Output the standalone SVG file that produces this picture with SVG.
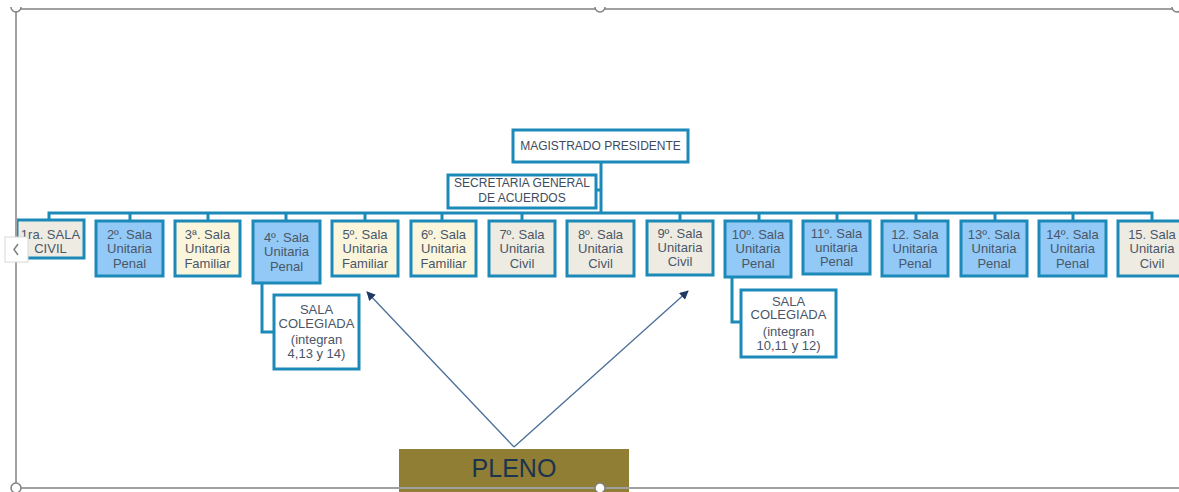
<svg xmlns="http://www.w3.org/2000/svg" width="1179" height="492" viewBox="0 0 1179 492">
<defs>
<style>
.box{stroke:#1C8AB8;stroke-width:3}
.blue{fill:#92C9F7}
.cream{fill:#FBF5DC}
.gray{fill:#EEECE2}
.white{fill:#FFFFFF}
.lbl{font-family:"Liberation Sans",Arial,sans-serif;font-size:13px;fill:#4A5668;text-anchor:middle}
.hdr{font-family:"Liberation Sans",Arial,sans-serif;font-size:12px;fill:#3E4B5C;text-anchor:middle}
.conn{stroke:#1C8AB8;stroke-width:3;fill:none}
.arr{stroke:#4A6F98;stroke-width:1.3;fill:none}
.frame{stroke:#A0A0A0;stroke-width:2;fill:none}
.handle{fill:#FFFFFF;stroke:#808080;stroke-width:1.5}
</style>
<marker id="ah" viewBox="0 0 10 10" refX="9" refY="5" markerWidth="9" markerHeight="9" markerUnits="userSpaceOnUse" orient="auto">
<path d="M0,0 L10,5 L0,10 Z" fill="#1F3864"/>
</marker>
</defs>
<rect width="1179" height="492" fill="#FFFFFF"/>

<g id="connectors">
<path class="conn" d="M601,162 V213"/>
<path class="conn" d="M596,190 H601"/>
<path class="conn" d="M49,220 V213 H1152 V220"/>
<path class="conn" d="M130,213 V221 M208,213 V221 M286,213 V221 M365,213 V221 M442,213 V221 M522,213 V221 M680,213 V221 M759,213 V221 M837,213 V221 M916,213 V221 M995,213 V221 M1073,213 V221"/>
<path class="conn" d="M262,283 V332 H274"/>
<path class="conn" d="M732,277 V322 H741"/>
<path class="arr" d="M514,447 L367,292" marker-end="url(#ah)"/>
<path class="arr" d="M514,447 L688,291" marker-end="url(#ah)"/>
</g>

<g id="magistrado">
<rect class="box white" x="513" y="130" width="175" height="32"/>
<text class="hdr" x="600.5" y="150">MAGISTRADO PRESIDENTE</text>
</g>
<g id="secretaria">
<rect class="box white" x="448" y="175" width="148" height="33"/>
<text class="hdr" x="522" y="187">SECRETARIA GENERAL</text>
<text class="hdr" x="522" y="202">DE ACUERDOS</text>
</g>

<g id="sala1">
<rect class="box gray" x="17" y="220" width="67" height="38"/>
<text class="lbl" x="50.5" y="238.5">1ra. SALA</text>
<text class="lbl" x="50.5" y="252.5">CIVIL</text>
</g>
<g id="sala2">
<rect class="box blue" x="96" y="221" width="67" height="55"/>
<text class="lbl" x="129.5" y="238.5">2º. Sala</text>
<text class="lbl" x="129.5" y="252.5">Unitaria</text>
<text class="lbl" x="129.5" y="267.5">Penal</text>
</g>
<g id="sala3">
<rect class="box cream" x="175" y="221" width="65" height="55"/>
<text class="lbl" x="207.5" y="238.5">3ª. Sala</text>
<text class="lbl" x="207.5" y="252.5">Unitaria</text>
<text class="lbl" x="207.5" y="267.5">Familiar</text>
</g>
<g id="sala4">
<rect class="box blue" x="253" y="221" width="67" height="62"/>
<text class="lbl" x="286.5" y="241.5">4º. Sala</text>
<text class="lbl" x="286.5" y="255.5">Unitaria</text>
<text class="lbl" x="286.5" y="270.5">Penal</text>
</g>
<g id="sala5">
<rect class="box cream" x="332" y="221" width="66" height="55"/>
<text class="lbl" x="365" y="238.5">5º. Sala</text>
<text class="lbl" x="365" y="252.5">Unitaria</text>
<text class="lbl" x="365" y="267.5">Familiar</text>
</g>
<g id="sala6">
<rect class="box cream" x="411" y="221" width="65" height="55"/>
<text class="lbl" x="443.5" y="238.5">6º. Sala</text>
<text class="lbl" x="443.5" y="252.5">Unitaria</text>
<text class="lbl" x="443.5" y="267.5">Familiar</text>
</g>
<g id="sala7">
<rect class="box gray" x="489" y="221" width="66" height="55"/>
<text class="lbl" x="522" y="238.5">7º. Sala</text>
<text class="lbl" x="522" y="252.5">Unitaria</text>
<text class="lbl" x="522" y="267.5">Civil</text>
</g>
<g id="sala8">
<rect class="box gray" x="567" y="221" width="67" height="55"/>
<text class="lbl" x="600.5" y="238.5">8º. Sala</text>
<text class="lbl" x="600.5" y="252.5">Unitaria</text>
<text class="lbl" x="600.5" y="267.5">Civil</text>
</g>
<g id="sala9">
<rect class="box gray" x="647" y="221" width="66" height="54"/>
<text class="lbl" x="680" y="237.5">9º. Sala</text>
<text class="lbl" x="680" y="251.5">Unitaria</text>
<text class="lbl" x="680" y="266">Civil</text>
</g>
<g id="sala10">
<rect class="box blue" x="725" y="221" width="66" height="56"/>
<text class="lbl" x="758" y="238.5">10º. Sala</text>
<text class="lbl" x="758" y="252.5">Unitaria</text>
<text class="lbl" x="758" y="267.5">Penal</text>
</g>
<g id="sala11">
<rect class="box blue" x="803" y="221" width="67" height="53"/>
<text class="lbl" x="836.5" y="237.5">11º. Sala</text>
<text class="lbl" x="836.5" y="251.5">unitaria</text>
<text class="lbl" x="836.5" y="266">Penal</text>
</g>
<g id="sala12">
<rect class="box blue" x="882" y="221" width="66" height="55"/>
<text class="lbl" x="915" y="238.5">12. Sala</text>
<text class="lbl" x="915" y="252.5">Unitaria</text>
<text class="lbl" x="915" y="267.5">Penal</text>
</g>
<g id="sala13">
<rect class="box blue" x="961" y="221" width="66" height="55"/>
<text class="lbl" x="994" y="238.5">13º. Sala</text>
<text class="lbl" x="994" y="252.5">Unitaria</text>
<text class="lbl" x="994" y="267.5">Penal</text>
</g>
<g id="sala14">
<rect class="box blue" x="1039" y="221" width="67" height="55"/>
<text class="lbl" x="1072.5" y="238.5">14º. Sala</text>
<text class="lbl" x="1072.5" y="252.5">Unitaria</text>
<text class="lbl" x="1072.5" y="267.5">Penal</text>
</g>
<g id="sala15">
<rect class="box gray" x="1118" y="221" width="70" height="55"/>
<text class="lbl" x="1152" y="238.5">15. Sala</text>
<text class="lbl" x="1152" y="252.5">Unitaria</text>
<text class="lbl" x="1152" y="267.5">Civil</text>
</g>

<g id="colegiada1">
<rect class="box white" x="274" y="295" width="85" height="74"/>
<text class="lbl" x="316.5" y="314">SALA</text>
<text class="lbl" x="316.5" y="328">COLEGIADA</text>
<text class="lbl" x="316.5" y="344">(integran</text>
<text class="lbl" x="316.5" y="358">4,13 y 14)</text>
</g>
<g id="colegiada2">
<rect class="box white" x="741" y="290" width="95" height="67"/>
<text class="lbl" x="788.5" y="306">SALA</text>
<text class="lbl" x="788.5" y="319">COLEGIADA</text>
<text class="lbl" x="788.5" y="336">(integran</text>
<text class="lbl" x="788.5" y="350">10,11 y 12)</text>
</g>

<g id="pleno">
<rect x="399" y="449" width="230" height="50" fill="#8F7E33"/>
<text x="514" y="477" font-family="'Liberation Sans',Arial,sans-serif" font-size="25" fill="#1C3350" text-anchor="middle">PLENO</text>
</g>

<g id="frame">
<path class="frame" d="M16,9 H1179 M16,9 V488 H1179"/>
<path class="handle" d="M11,7 A5,5 0 0 0 21,7"/>
<path class="handle" d="M595,7 A5,5 0 0 0 605,7"/>
<path class="handle" d="M1172,7 A5,5 0 0 0 1182,7"/>
<circle class="handle" cx="16" cy="488" r="5"/>
<circle class="handle" cx="600" cy="488" r="5"/>
<rect x="5" y="237" width="23" height="25" fill="#FFFFFF" stroke="#D8D8D8" stroke-width="1"/>
<path d="M18,244 L14,249.5 L18,255" fill="none" stroke="#808080" stroke-width="1.5"/>
</g>
</svg>
